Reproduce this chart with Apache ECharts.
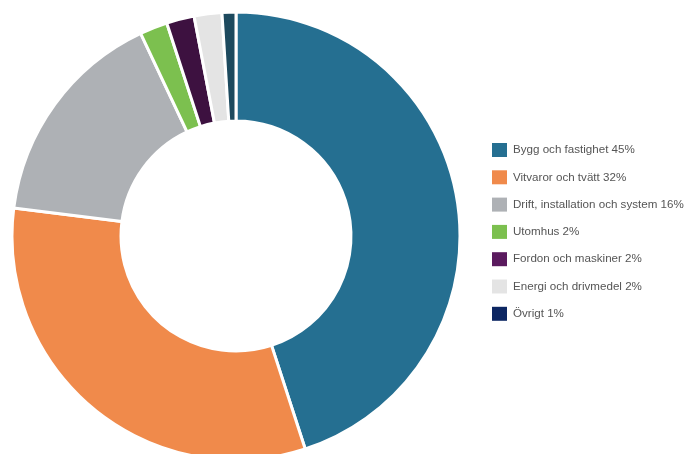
<!DOCTYPE html>
<html>
<head>
<meta charset="utf-8">
<script src="https://cdn.jsdelivr.net/npm/echarts@6/dist/echarts.min.js"></script>
<style>
  html, body { margin: 0; padding: 0; background: #fff; }
  #chart { width: 688px; height: 454px; }
</style>
</head>
<body>
<div id="chart"></div>
<script>
  // kategorier och andelar (%)
  const categories = [
    'Bygg och fastighet',
    'Vitvaror och tvätt',
    'Drift, installation och system',
    'Utomhus',
    'Fordon och maskiner',
    'Energi och drivmedel',
    'Övrigt'
  ]
  const shares = [45, 32, 16, 2, 2, 2, 1]
  const sliceColors = ['#256f91', '#f08a4b', '#aeb1b5', '#7cc04f', '#3d1140', '#e4e4e4', '#1d4a5e']
  const legendColors = ['#256f91', '#f08a4b', '#aeb1b5', '#7cc04f', '#5a1a5e', '#e4e4e4', '#0c2662']

  const chart = echarts.init(document.getElementById('chart'))

  const seriesData = categories.map((name, i) => ({
    name: name,
    value: shares[i],
    itemStyle: { color: sliceColors[i] }
  }))

  chart.setOption({
    animation: false,
    legend: {
      orient: 'vertical',
      left: 492,
      top: 143,
      padding: 0,
      itemWidth: 15,
      itemHeight: 14,
      itemGap: 13.3,
      icon: 'rect',
      itemStyle: { borderWidth: 0 },
      textStyle: {
        fontFamily: 'Liberation Sans, Arial, sans-serif',
        fontSize: 11.6,
        color: '#555',
        padding: [0, 0, 0, 1]
      },
      data: categories.map((name, i) => ({
        name: name,
        itemStyle: { color: legendColors[i], borderWidth: 0 }
      })),
      formatter: function (name) {
        const i = categories.indexOf(name)
        return name + ' ' + shares[i] + '%'
      }
    },
    series: [{
      type: 'pie',
      center: [236, 236],
      radius: [115, 224],
      startAngle: 90,
      clockwise: true,
      label: { show: false },
      labelLine: { show: false },
      emphasis: { disabled: true },
      itemStyle: {
        borderColor: '#fff',
        borderWidth: 3
      },
      data: seriesData
    }]
  })
</script>
</body>
</html>
